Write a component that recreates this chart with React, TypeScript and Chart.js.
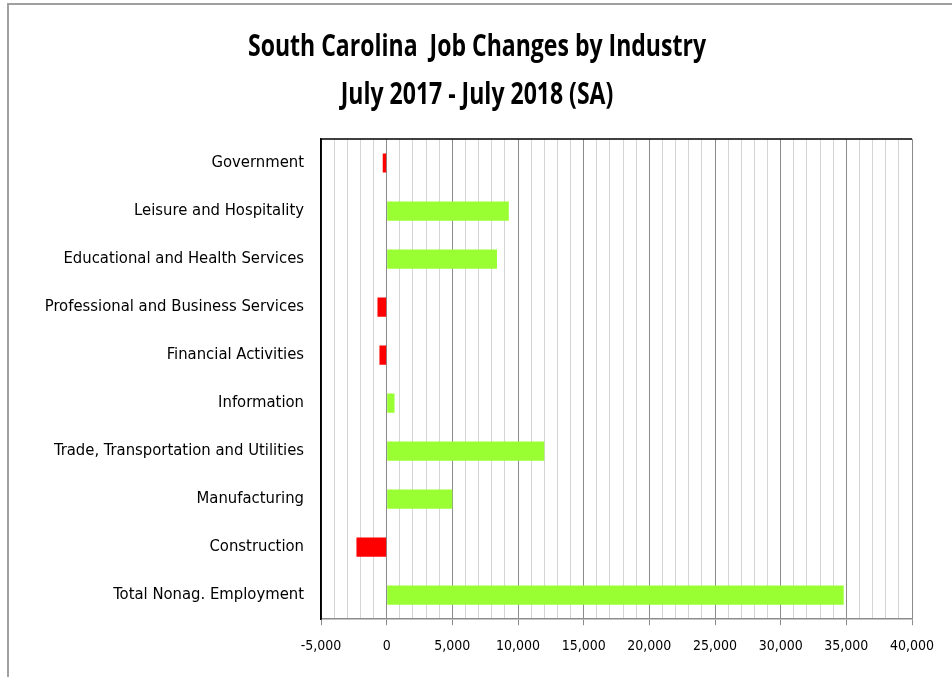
import React, { useEffect, useRef } from "react";
import { Chart, registerables } from "chart.js";

Chart.register(...registerables);

const categories = [
  "Government",
  "Leisure and Hospitality",
  "Educational and Health Services",
  "Professional and Business Services",
  "Financial Activities",
  "Information",
  "Trade, Transportation and Utilities",
  "Manufacturing",
  "Construction",
  "Total Nonag. Employment",
];
const jobChanges = [-300, 9300, 8400, -700, -550, 600, 12000, 5000, -2300, 34800];
const titleLines = ["South Carolina  Job Changes by Industry", "July 2017 - July 2018 (SA)"];
const xMin = -5000;
const xMax = 40000;

const FONT = "'DejaVu Sans Condensed', 'Liberation Sans Narrow', sans-serif";
const TITLE_FONT = "'Open Sans', 'DejaVu Sans Condensed', sans-serif";

const frameBorder = {
  id: "frameBorder",
  afterDraw(chart: any) {
    const { ctx, chartArea } = chart;
    ctx.save();
    ctx.strokeStyle = "#000000";
    ctx.lineWidth = 1.5;
    ctx.beginPath();
    ctx.moveTo(chartArea.left, chartArea.top);
    ctx.lineTo(chartArea.right, chartArea.top);
    ctx.stroke();
    ctx.beginPath();
    ctx.moveTo(chartArea.left, chartArea.top);
    ctx.lineTo(chartArea.left, chartArea.bottom);
    ctx.stroke();
    ctx.restore();
  },
};

const narrowTitle = {
  id: "narrowTitle",
  afterDraw(chart: any) {
    const { ctx } = chart;
    ctx.save();
    ctx.fillStyle = "#000000";
    ctx.font = `bold 31px ${TITLE_FONT}`;
    ctx.textAlign = "center";
    ctx.textBaseline = "middle";
    const w = ctx.measureText(titleLines[0]).width;
    const sx = Math.min(1, 458 / w);
    const ys = [47, 95];
    titleLines.forEach((line, i) => {
      ctx.save();
      ctx.translate(477, ys[i]);
      ctx.scale(sx, 1);
      ctx.fillText(line, 0, 0);
      ctx.restore();
    });
    ctx.restore();
  },
};

export default function App() {
  const ref = useRef<HTMLCanvasElement>(null);
  useEffect(() => {
    if (!ref.current) return;
    const chart = new Chart(ref.current, {
      type: "bar",
      data: {
        labels: categories,
        datasets: [
          {
            data: jobChanges,
            backgroundColor: jobChanges.map((v) => (v < 0 ? "#ff0000" : "#99ff33")),
            barPercentage: 0.4,
            categoryPercentage: 1,
          },
        ],
      },
      options: {
        indexAxis: "y",
        animation: false,
        responsive: false,
        layout: { padding: { left: 0, right: 40, top: 139, bottom: 9 } },
        plugins: {
          legend: { display: false },
          tooltip: { enabled: false },
          title: { display: false },
        },
        scales: {
          x: {
            type: "linear",
            min: xMin,
            max: xMax,
            ticks: {
              stepSize: 1000,
              autoSkip: false,
              maxRotation: 0,
              color: "#000000",
              font: { family: FONT, size: 14 },
              padding: 13,
              callback: (v: any) => (Number(v) % 5000 === 0 ? Number(v).toLocaleString("en-US") : ""),
            },
            grid: {
              color: (c: any) => (c.tick && c.tick.value % 5000 === 0 ? "#8c8c8c" : "#d4d4d4"),
              lineWidth: 1,
              tickLength: 6,
              tickColor: (c: any) => (c.tick && c.tick.value % 5000 === 0 ? "#8c8c8c" : "rgba(0,0,0,0)"),
            },
            border: { color: "#8c8c8c", width: 1.5 },
          },
          y: {
            ticks: {
              color: "#000000",
              font: { family: FONT, size: 16.5 },
              padding: 17,
            },
            grid: { display: false, drawTicks: false },
            border: { color: "#000000", width: 1.5 },
            afterFit: (scale: any) => {
              scale.width = 321;
            },
          },
        },
      },
      plugins: [frameBorder, narrowTitle],
    });
    return () => chart.destroy();
  }, []);
  return (
    <div style={{ position: "fixed", left: 0, top: 0, width: 952, height: 677, background: "#fff" }}>
      <div
        style={{
          position: "absolute",
          left: 7,
          top: 3,
          width: 960,
          height: 700,
          borderLeft: "2px solid #a0a0a0",
          borderTop: "2px solid #a0a0a0",
          boxSizing: "border-box",
        }}
      />
      <canvas ref={ref} width={952} height={677} style={{ position: "absolute", left: 0, top: 0 }} />
    </div>
  );
}
